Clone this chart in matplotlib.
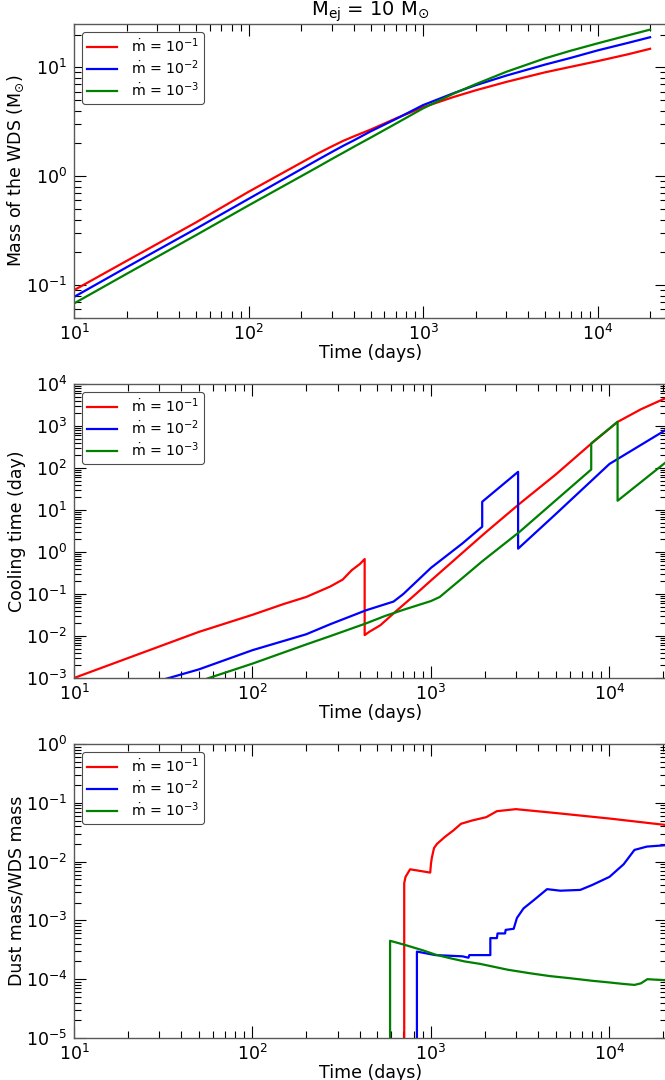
import numpy as np
import matplotlib
matplotlib.use("Agg")
import matplotlib.pyplot as plt
from matplotlib.ticker import LogLocator, NullFormatter

# ---------------- data ----------------
labels = [r"$\dot{\mathrm{m}}$ = 10$^{-1}$",
          r"$\dot{\mathrm{m}}$ = 10$^{-2}$",
          r"$\dot{\mathrm{m}}$ = 10$^{-3}$"]
colors = ["red", "blue", "green"]

# Mass of the WDS (Msun) vs time (days)
t_mass = [10, 20, 50, 100, 200, 250, 300, 350, 400, 500, 700, 1000, 1500,
          2000, 3000, 5000, 7000, 10000, 15000, 20000]
mass_1 = [0.090, 0.167, 0.377, 0.72, 1.33, 1.62, 1.88, 2.12, 2.32, 2.68,
          3.40, 4.30, 5.35, 6.15, 7.35, 9.0, 10.1, 11.4, 13.2, 14.8]
mass_2 = [0.078, 0.146, 0.33, 0.62, 1.16, 1.42, 1.67, 1.91, 2.13, 2.58,
          3.36, 4.50, 5.80, 6.85, 8.4, 10.6, 12.2, 14.3, 16.8, 18.9]
mass_3 = [0.068, 0.127, 0.288, 0.54, 1.0, 1.22, 1.44, 1.65, 1.86, 2.26,
          3.05, 4.2, 5.75, 7.0, 9.1, 12.1, 14.2, 16.6, 19.7, 22.2]

# Cooling time (day) vs time (days)
t_cool_1 = [10, 50, 100, 150, 200, 272, 320, 360, 400, 425, 425, 450, 520,
            650, 800, 1000, 1300, 2000, 3128, 5000, 7900, 11100, 15000, 20600]
cool_1 = [1.0e-3, 0.0125, 0.032, 0.058, 0.085, 0.15, 0.22, 0.37, 0.52, 0.68,
          0.0105, 0.0125, 0.018, 0.042, 0.09, 0.21, 0.56, 2.8, 14.0, 70.0,
          380.0, 1250.0, 2500.0, 4600.0]
t_cool_2 = [25, 34, 50, 100, 200, 272, 433, 617, 700, 1000, 1500, 1936,
            1936, 3076, 3076, 5000, 10000, 20600]
cool_2 = [7e-4, 1.0e-3, 0.0016, 0.0046, 0.011, 0.019, 0.041, 0.066, 0.10,
          0.42, 1.6, 4.0, 15.7, 81.0, 1.2, 8.0, 125.0, 800.0]
t_cool_3 = [45, 57, 100, 200, 272, 433, 553, 700, 1000, 1120, 1500, 1936,
            3128, 5000, 7900, 7900, 11100, 11100, 20600]
cool_3 = [7e-4, 1.0e-3, 0.0022, 0.0063, 0.0099, 0.020, 0.030, 0.042, 0.068,
          0.085, 0.24, 0.60, 3.0, 17.0, 92.0, 385.0, 1260.0, 16.6, 135.0]

# Dust mass / WDS mass vs time (days)
t_dust_1 = [708, 708, 720, 764, 990, 1000, 1012, 1040, 1080, 1200, 1337,
            1473, 1700, 2040, 2340, 2990, 5000, 10000, 20600]
dust_1 = [1e-7, 0.0043, 0.0055, 0.0074, 0.0065, 0.0093, 0.0118, 0.017,
          0.020, 0.0265, 0.034, 0.044, 0.050, 0.057, 0.072, 0.078, 0.067,
          0.054, 0.042]
t_dust_2 = [834, 834, 1058, 1500, 1622, 1640, 2150, 2150, 2340, 2360, 2600,
            2620, 2906, 3030, 3300, 3760, 4470, 5300, 6860, 8000, 10000,
            12000, 13800, 16200, 20600]
dust_2 = [1e-7, 2.95e-4, 2.57e-4, 2.45e-4, 2.32e-4, 2.57e-4, 2.57e-4, 5.0e-4,
          5.0e-4, 6.0e-4, 6.0e-4, 6.9e-4, 7.2e-4, 1.1e-3, 1.6e-3, 2.2e-3,
          3.4e-3, 3.2e-3, 3.3e-3, 4.0e-3, 5.5e-3, 9.0e-3, 0.0158, 0.018,
          0.019]
t_dust_3 = [590, 590, 700, 900, 1058, 1300, 1550, 1888, 2690, 3600, 4630,
            6000, 8000, 10000, 12000, 13800, 15000, 16300, 20600]
dust_3 = [1e-7, 4.5e-4, 3.9e-4, 3.1e-4, 2.62e-4, 2.25e-4, 2.0e-4, 1.82e-4,
          1.45e-4, 1.26e-4, 1.13e-4, 1.04e-4, 9.4e-5, 8.8e-5, 8.3e-5, 8.0e-5,
          8.5e-5, 1.0e-4, 9.6e-5]

# ---------------- figure ----------------
W, H = 665, 1080
fig = plt.figure(figsize=(W / 100, H / 100), dpi=100)

left = 74 / W
width = 593 / W
ax_h = 294 / H
bottoms = [1 - 318 / H, 1 - 678 / H, 1 - 1038 / H]
axes = [fig.add_axes([left, b, width, ax_h]) for b in bottoms]

panels = [
    (axes[0], [(t_mass, mass_1), (t_mass, mass_2), (t_mass, mass_3)],
     (10, 2.5e4), (0.05, 25), r"Mass of the WDS (M$_{\odot}$)"),
    (axes[1], [(t_cool_1, cool_1), (t_cool_2, cool_2), (t_cool_3, cool_3)],
     (10, 2.1e4), (1e-3, 1e4), "Cooling time (day)"),
    (axes[2], [(t_dust_1, dust_1), (t_dust_2, dust_2), (t_dust_3, dust_3)],
     (10, 2.1e4), (1e-5, 1), "Dust mass/WDS mass"),
]

for ax, series, xl, yl, ylab in panels:
    for (t, v), c, lab in zip(series, colors, labels):
        ax.plot(t, v, color=c, lw=1.6, label=lab)
    ax.set_xscale("log")
    ax.set_yscale("log")
    ax.set_xlim(*xl)
    ax.set_ylim(*yl)
    for axis in (ax.xaxis, ax.yaxis):
        axis.set_major_locator(LogLocator(base=10, numticks=30))
        axis.set_minor_locator(LogLocator(base=10, subs=np.arange(2, 10), numticks=60))
        axis.set_minor_formatter(NullFormatter())
    ax.tick_params(which="both", direction="in", top=True, right=True,
                   labelsize=12.5, width=0.8)
    ax.tick_params(which="major", length=8.5)
    ax.tick_params(axis="x", which="major", pad=4)
    ax.tick_params(axis="y", which="major", pad=5)
    ax.tick_params(which="minor", length=5)
    for s in ax.spines.values():
        s.set_linewidth(1.0)
        s.set_color("0.35")
    ax.set_xlabel("Time (days)", fontsize=12.5, labelpad=0)
    ax.set_ylabel(ylab, fontsize=12.5, labelpad=0)
    leg = ax.legend(loc="upper left", fontsize=10.2, handlelength=2.1,
                    handletextpad=1.0, borderaxespad=0.55, labelspacing=0.25,
                    borderpad=0.35, fancybox=True, framealpha=1.0)
    leg.get_frame().set_edgecolor("0.3")
    leg.get_frame().set_linewidth(0.8)

axes[0].set_title(r"M$_{\mathrm{ej}}$ = 10 M$_{\odot}$", fontsize=14, pad=1)

fig.savefig("out.png", dpi=100)
